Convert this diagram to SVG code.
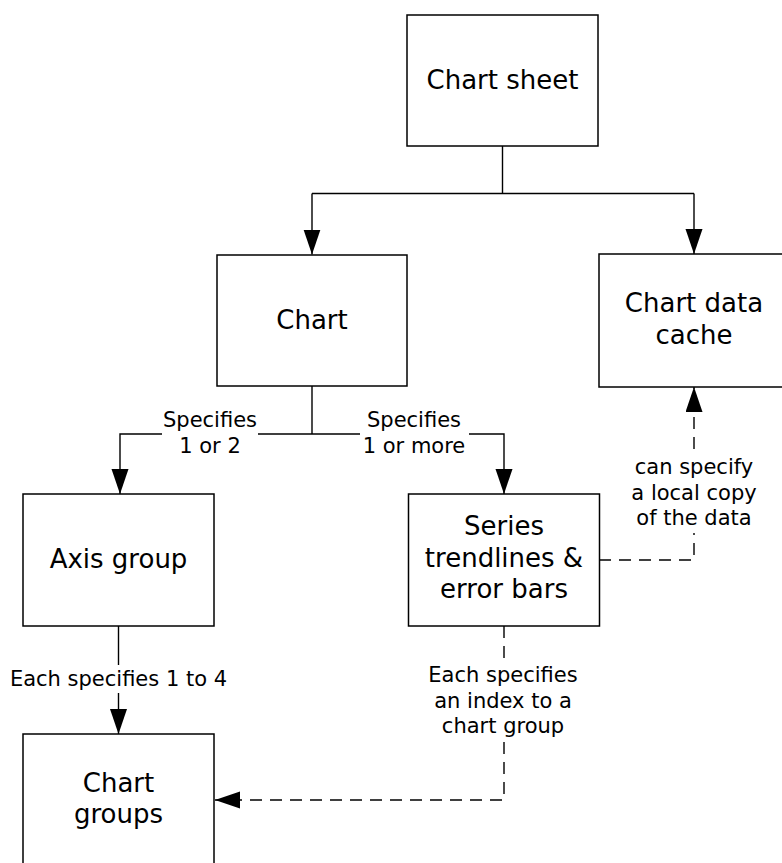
<svg xmlns="http://www.w3.org/2000/svg" width="782" height="863" viewBox="0 0 782 863">
<style>
.box{fill:#fff;stroke:#000;stroke-width:1.5}
.nt{font-family:"DejaVu Sans","Liberation Sans",sans-serif;font-size:26px;text-anchor:middle;fill:#000}
.lt{font-family:"DejaVu Sans","Liberation Sans",sans-serif;font-size:21px;text-anchor:middle;fill:#000}
.ln{fill:none;stroke:#000;stroke-width:1.4}
.dl{fill:none;stroke:#000;stroke-width:1.4;stroke-dasharray:12 8}
</style>
<defs>
<marker id="arr" markerUnits="userSpaceOnUse" markerWidth="26" markerHeight="18" refX="25" refY="8.5" orient="auto">
<path d="M0,0 L25,8.5 L0,17 z" fill="#000"/>
</marker>
</defs>
<rect width="782" height="863" fill="#fff"/>
<g id="connectors">
<path class="ln" d="M502.5,146 V193.5 M312,193.5 H694"/>
<path class="ln" d="M312,193.5 V254.5" marker-end="url(#arr)"/>
<path class="ln" d="M694,193.5 V254" marker-end="url(#arr)"/>
<path class="ln" d="M312,386 V434 H258 M312,434 H360"/>
<path class="ln" d="M162,434 H120 V494" marker-end="url(#arr)"/>
<path class="ln" d="M469,434 H504 V494" marker-end="url(#arr)"/>
<path class="ln" d="M118.5,626 V665"/>
<path class="ln" d="M118.5,693 V734" marker-end="url(#arr)"/>
<path class="dl" d="M504,626 V663"/>
<path class="dl" d="M504,742 V800 H215" marker-end="url(#arr)"/>
<path class="dl" d="M599,560 H694 V533"/>
<path class="dl" d="M694,449 V387" marker-end="url(#arr)"/>
<text class="lt" x="210" y="427">Specifies</text>
<text class="lt" x="210" y="453">1 or 2</text>
<text class="lt" x="414" y="427">Specifies</text>
<text class="lt" x="414" y="453">1 or more</text>
<text class="lt" x="118.5" y="686">Each specifies 1 to 4</text>
<text class="lt" x="503" y="682">Each specifies</text>
<text class="lt" x="503" y="707.5">an index to a</text>
<text class="lt" x="503" y="733">chart group</text>
<text class="lt" x="694" y="474">can specify</text>
<text class="lt" x="694" y="499.5">a local copy</text>
<text class="lt" x="694" y="524.5">of the data</text>
</g>
<g id="chart-sheet">
<rect class="box" x="407" y="15" width="191" height="131"/>
<text class="nt" x="502.5" y="88.5">Chart sheet</text>
</g>
<g id="chart">
<rect class="box" x="217" y="255" width="190" height="131"/>
<text class="nt" x="312" y="328.5">Chart</text>
</g>
<g id="chart-data-cache">
<rect class="box" x="599" y="254" width="191" height="133"/>
<text class="nt" x="694" y="312">Chart data</text>
<text class="nt" x="694" y="343.5">cache</text>
</g>
<g id="axis-group">
<rect class="box" x="23" y="494" width="191" height="132"/>
<text class="nt" x="118.5" y="568">Axis group</text>
</g>
<g id="series">
<rect class="box" x="408.5" y="494" width="191" height="132"/>
<text class="nt" x="504" y="535">Series</text>
<text class="nt" x="504" y="566.5">trendlines &amp;</text>
<text class="nt" x="504" y="598">error bars</text>
</g>
<g id="chart-groups">
<rect class="box" x="23" y="734" width="191" height="132"/>
<text class="nt" x="118.5" y="791.5">Chart</text>
<text class="nt" x="118.5" y="822.5">groups</text>
</g>
</svg>
